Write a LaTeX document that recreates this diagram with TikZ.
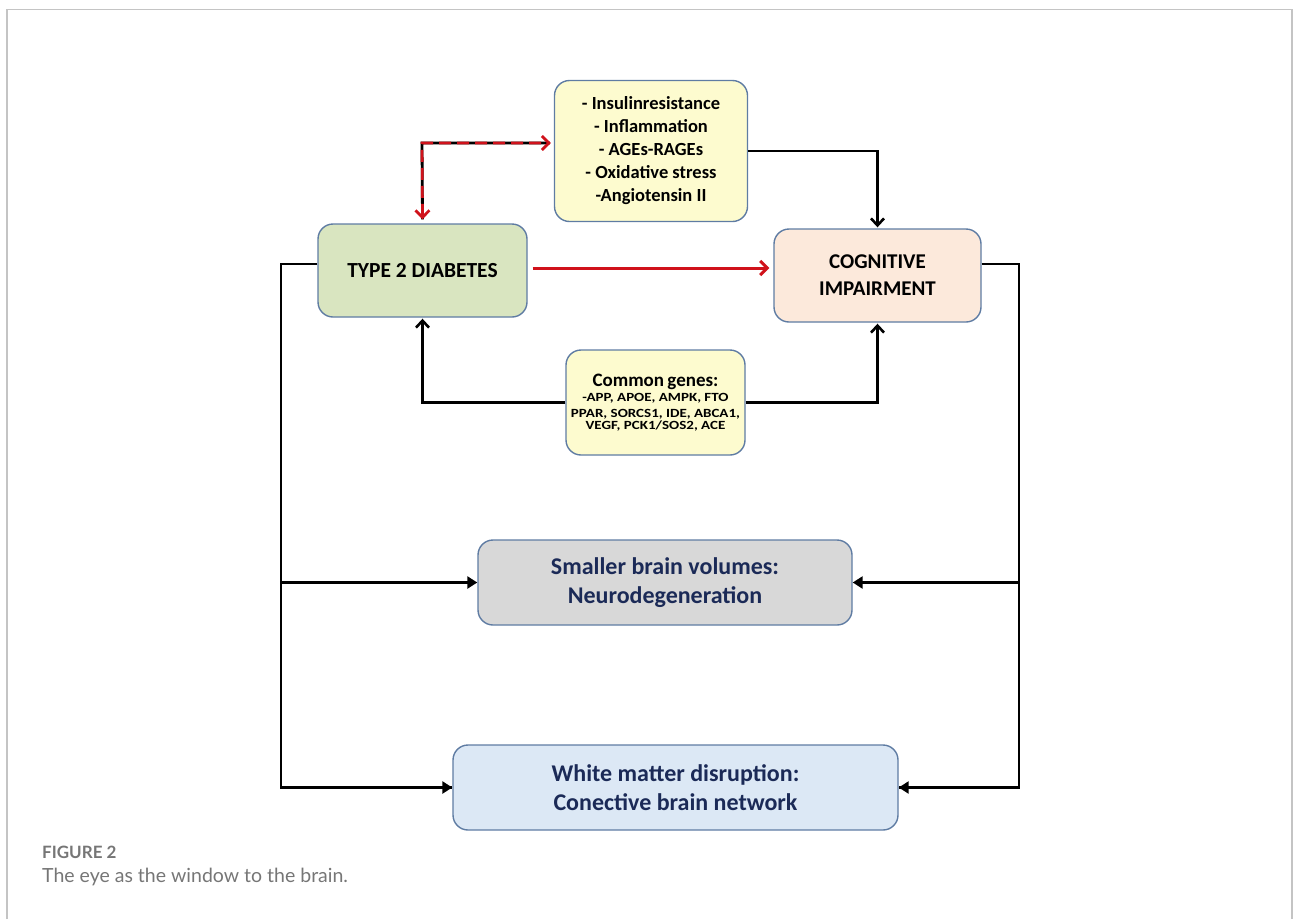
\documentclass[tikz,border=0pt]{standalone}
\usepackage{fontspec}
\setmainfont{Carlito}
\newfontfamily\widefont{Carlito}[FakeStretch=1.2]
\newfontfamily\capfont{Lato}
\usetikzlibrary{arrows.meta}
\definecolor{framec}{HTML}{C4C4C4}
\definecolor{boxborder}{HTML}{5F7CA3}
\definecolor{greenfill}{HTML}{D9E5C0}
\definecolor{peachfill}{HTML}{FCE9DB}
\definecolor{yellowfill}{HTML}{FDFBCF}
\definecolor{grayfill}{HTML}{D8D8D8}
\definecolor{bluefill}{HTML}{DCE8F5}
\definecolor{navy}{HTML}{1B2A57}
\definecolor{arrred}{HTML}{D0121B}
\definecolor{capgray}{HTML}{767676}
\tikzset{
  box/.style={draw=boxborder, line width=1.4pt, rounded corners=15pt, align=center, inner sep=0pt},
  conn/.style={draw=black, line width=2.6pt},
  barb/.style={conn, -{Straight Barb[length=7pt,width=13pt,line width=2.6pt]}},
  tri/.style={conn, -{Triangle[length=10pt,width=12pt]}},
  redarr/.style={draw=arrred, line width=3pt, -{Straight Barb[length=7pt,width=14pt,line width=3pt]}},
}
\begin{document}
\begin{tikzpicture}[x=1pt,y=-1pt]
\useasboundingbox (0,0) rectangle (1293,919);
\draw[framec, line width=1.2pt] (7,919) -- (7,9.5) -- (1292,9.5) -- (1292,919);

\node[box, fill=yellowfill, minimum width=193pt, minimum height=141pt,
  font=\fontsize{18.5}{23}\selectfont\bfseries] (mech) at (651,151)
  {- Insulinresistance\\- Inflammation\\- AGEs-RAGEs\\- Oxidative stress\\-Angiotensin II};
\node[box, fill=greenfill, minimum width=209pt, minimum height=93pt,
  font=\fontsize{21.5}{24}\selectfont\bfseries] (t2d) at (422.5,270.5) {TYPE 2 DIABETES};
\node[box, fill=peachfill, minimum width=207pt, minimum height=93pt,
  font=\fontsize{21}{27}\selectfont\bfseries] (ci) at (877.5,275.5) {COGNITIVE\\IMPAIRMENT};
\node[box, fill=yellowfill, minimum width=179pt, minimum height=105pt, text width=175pt,
  font=\bfseries] (genes) at (655.5,402.5)
  {{\fontsize{19}{21}\selectfont Common genes:\par}
   \widefont\bfseries\fontsize{12.5}{15.5}\selectfont -APP, APOE, AMPK, FTO\\PPAR, SORCS1, IDE, ABCA1,\\VEGF, PCK1/SOS2, ACE};
\node[box, fill=grayfill, minimum width=374pt, minimum height=85pt, text=navy,
  font=\fontsize{24}{29}\selectfont\bfseries] (brain) at (665,582.5)
  {Smaller brain volumes:\\Neurodegeneration};
\node[box, fill=bluefill, minimum width=445pt, minimum height=85pt, text=navy,
  font=\fontsize{24}{29}\selectfont\bfseries] (wm) at (675.5,787.5)
  {White matter disruption:\\Conective brain network};

% dashed red/black link
\coordinate (dc) at (422,143);
\draw[black, line width=2.8pt] ([yshift=4pt]t2d.north) -- (dc) -- ([xshift=-4pt]dc -| mech.west);
\draw[arrred, line width=2.8pt, dash pattern=on 12pt off 6pt,
  {Straight Barb[length=7pt,width=14pt,line width=2.8pt]}-{Straight Barb[length=7pt,width=14pt,line width=2.8pt]}]
  ([yshift=4pt]t2d.north) -- (dc) -- ([xshift=-3pt]dc -| mech.west);

% red main arrow
\draw[redarr] ([xshift=5pt,yshift=2.5pt]t2d.east) -- ([xshift=-4pt,yshift=2.5pt]t2d.east -| ci.west);

% mechanisms -> CI
\draw[barb] (mech.east) -| ([yshift=1pt]ci.north);

% genes -> both
\draw[barb] (genes.west) -| ([yshift=-1pt]t2d.south);
\draw[barb] (genes.east) -| ([yshift=-1pt]ci.south);

% left trunk
\coordinate (L) at (281,264);
\draw[conn] (t2d.west |- L) -- (L) |- (wm.west);
\draw[tri] (L |- brain.west) -- (brain.west);
\path (L |- wm.west) coordinate (Lb);
\draw[tri] (Lb) -- (wm.west);

% right trunk
\coordinate (R) at (1019,264);
\draw[conn] (ci.east |- R) -- (R) |- (wm.east);
\draw[tri] (R |- brain.east) -- (brain.east);
\draw[tri] (R |- wm.east) -- (wm.east);

% caption
\node[anchor=base west, inner sep=0pt, text=capgray, font=\capfont\fontsize{17}{18}\selectfont\bfseries] (figlab) at (42,858) {FIGURE 2};
\node[anchor=base west, inner sep=0pt, text=capgray, font=\capfont\fontsize{19.5}{22}\selectfont] (figcap) at (42,882) {The eye as the window to the brain.};
\end{tikzpicture}
\end{document}
